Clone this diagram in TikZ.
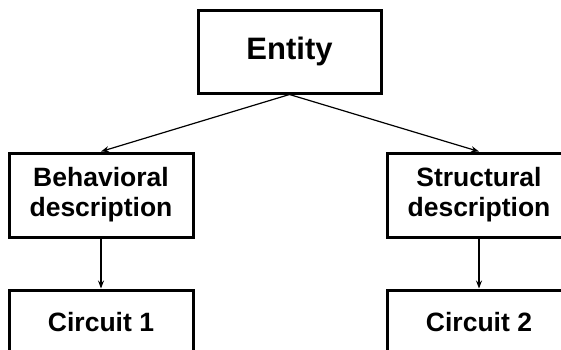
\documentclass[tikz,border=0pt]{standalone}
\usepackage{fontspec}
\setmainfont{Liberation Sans}
\usepackage{tikz}
\usetikzlibrary{arrows.meta}
\tikzset{
  blockbox/.style={draw=black, line width=3pt, fill=white, align=center,
    font=\bfseries\fontsize{26.5}{30}\selectfont, inner sep=0pt,
    minimum width=184pt, minimum height=84pt},
  flowarrow/.style={-{Stealth[length=8pt,width=6pt]}, line width=1.2pt},
}

\begin{document}
\begin{tikzpicture}[x=1pt,y=-1pt]
\clip (0,0) rectangle (561,349);
% top block
\node[blockbox, minimum width=183pt, minimum height=83pt,
  font=\bfseries\fontsize{31}{36}\selectfont] (entity) at (289.5,51.5) {Entity};
% descriptions
\node[blockbox] (behav) at (101,195) {Behavioral\\description};
\node[blockbox] (struct) at (479,195) {Structural\\description};
% circuits (cut at the lower edge)
\node[blockbox, minimum height=64pt] (circone) at (101,322) {Circuit 1};
\node[blockbox, minimum height=64pt] (circtwo) at (479,322) {Circuit 2};

\draw[flowarrow] (entity.south) -- (behav.north);
\draw[flowarrow] (entity.south) -- (struct.north);
\draw[flowarrow] (behav.south) -- (circone.north);
\draw[flowarrow] (struct.south) -- (circtwo.north);
\end{tikzpicture}
\end{document}
